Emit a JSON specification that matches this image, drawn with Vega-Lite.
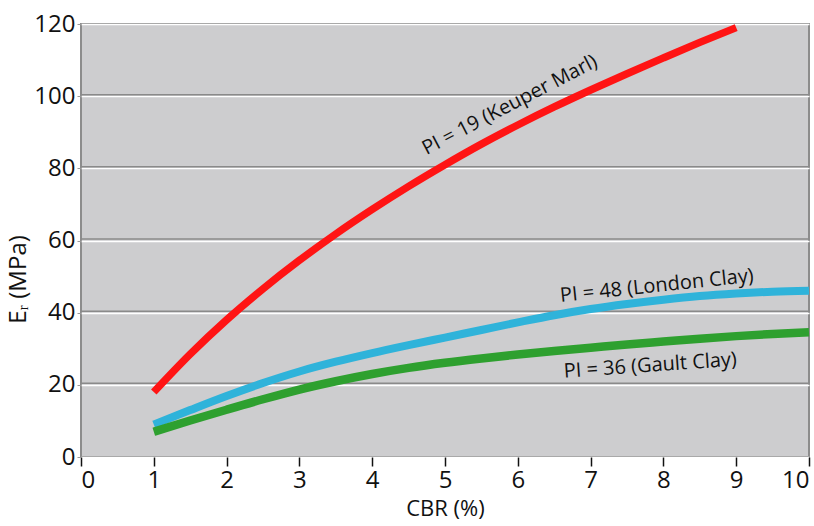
{
  "$schema": "https://vega.github.io/schema/vega-lite/v6.json",
  "width": 728,
  "height": 433,
  "autosize": {"type": "none"},
  "padding": {"left": 81, "top": 24, "right": 5, "bottom": 69},
  "background": "white",
  "config": {
    "font": "Open Sans",
    "view": {"fill": "#cdcdcf", "stroke": "#8c8c8c", "strokeWidth": 2},
    "axis": {"domain": false, "labelColor": "#111", "titleColor": "#111", "labelFont": "Open Sans", "titleFont": "Open Sans", "titleFontWeight": "normal"}
  },
  "datasets": {
    "curves": [
      {"series": "Keuper", "cbr": 1, "er": 18},
      {"series": "Keuper", "cbr": 1.5, "er": 28.5},
      {"series": "Keuper", "cbr": 2, "er": 38},
      {"series": "Keuper", "cbr": 2.5, "er": 46.6},
      {"series": "Keuper", "cbr": 3, "er": 54.5},
      {"series": "Keuper", "cbr": 3.5, "er": 61.8},
      {"series": "Keuper", "cbr": 4, "er": 68.6},
      {"series": "Keuper", "cbr": 4.5, "er": 75},
      {"series": "Keuper", "cbr": 5, "er": 81},
      {"series": "Keuper", "cbr": 5.5, "er": 86.7},
      {"series": "Keuper", "cbr": 6, "er": 92},
      {"series": "Keuper", "cbr": 6.5, "er": 97},
      {"series": "Keuper", "cbr": 7, "er": 101.7},
      {"series": "Keuper", "cbr": 7.5, "er": 106.2},
      {"series": "Keuper", "cbr": 8, "er": 110.6},
      {"series": "Keuper", "cbr": 8.5, "er": 114.9},
      {"series": "Keuper", "cbr": 9, "er": 119},
      {"series": "London", "cbr": 1, "er": 9},
      {"series": "London", "cbr": 1.5, "er": 13},
      {"series": "London", "cbr": 2, "er": 16.9},
      {"series": "London", "cbr": 2.5, "er": 20.5},
      {"series": "London", "cbr": 3, "er": 23.7},
      {"series": "London", "cbr": 3.5, "er": 26.4},
      {"series": "London", "cbr": 4, "er": 28.8},
      {"series": "London", "cbr": 4.5, "er": 31},
      {"series": "London", "cbr": 5, "er": 33.1},
      {"series": "London", "cbr": 5.5, "er": 35.2},
      {"series": "London", "cbr": 6, "er": 37.3},
      {"series": "London", "cbr": 6.5, "er": 39.3},
      {"series": "London", "cbr": 7, "er": 41},
      {"series": "London", "cbr": 7.5, "er": 42.4},
      {"series": "London", "cbr": 8, "er": 43.6},
      {"series": "London", "cbr": 8.5, "er": 44.6},
      {"series": "London", "cbr": 9, "er": 45.3},
      {"series": "London", "cbr": 9.5, "er": 45.8},
      {"series": "London", "cbr": 10, "er": 46.1},
      {"series": "Gault", "cbr": 1, "er": 7},
      {"series": "Gault", "cbr": 1.5, "er": 10.1},
      {"series": "Gault", "cbr": 2, "er": 13.1},
      {"series": "Gault", "cbr": 2.5, "er": 16},
      {"series": "Gault", "cbr": 3, "er": 18.7},
      {"series": "Gault", "cbr": 3.5, "er": 21},
      {"series": "Gault", "cbr": 4, "er": 23},
      {"series": "Gault", "cbr": 4.5, "er": 24.7},
      {"series": "Gault", "cbr": 5, "er": 26.1},
      {"series": "Gault", "cbr": 5.5, "er": 27.3},
      {"series": "Gault", "cbr": 6, "er": 28.4},
      {"series": "Gault", "cbr": 6.5, "er": 29.4},
      {"series": "Gault", "cbr": 7, "er": 30.3},
      {"series": "Gault", "cbr": 7.5, "er": 31.2},
      {"series": "Gault", "cbr": 8, "er": 32},
      {"series": "Gault", "cbr": 8.5, "er": 32.8},
      {"series": "Gault", "cbr": 9, "er": 33.5},
      {"series": "Gault", "cbr": 9.5, "er": 34.1},
      {"series": "Gault", "cbr": 10, "er": 34.6}
    ],
    "labels": [
      {"series": "Keuper", "cbr": 5.89, "er": 97.5, "text": "PI = 19 (Keuper Marl)"},
      {"series": "London", "cbr": 7.91, "er": 47.4, "text": "PI = 48 (London Clay)"},
      {"series": "Gault", "cbr": 7.82, "er": 25.3, "text": "PI = 36 (Gault Clay)"}
    ]
  },
  "layer": [
    {
      "data": {"values": [{"er": 20}, {"er": 40}, {"er": 60}, {"er": 80}, {"er": 100}]},
      "mark": {"type": "rule", "color": "#8a8a8a", "strokeWidth": 1.5, "yOffset": -1.5},
      "encoding": {
        "y": {"field": "er", "type": "quantitative", "scale": {"domain": [0, 120]},
          "axis": {
            "title": "Eᵣ (MPa)", "titleFontSize": 24, "titlePadding": 3, "titleY": 255,
            "values": [0, 20, 40, 60, 80, 100, 120], "labelFontSize": 24, "labelPadding": 2,
            "tickSize": 4, "tickColor": "#9a9a9a", "grid": true, "gridColor": "#ffffff", "gridWidth": 1.5
          }
        }
      }
    },
    {
      "data": {"name": "curves"},
      "mark": {"type": "line", "interpolate": "monotone", "strokeCap": "butt"},
      "encoding": {
        "x": {"field": "cbr", "type": "quantitative", "scale": {"domain": [0, 10]},
          "axis": {
            "title": "CBR (%)", "titleFontSize": 22, "titlePadding": 6,
            "values": [0, 1, 2, 3, 4, 5, 6, 7, 8, 9, 10], "format": "d", "labelFontSize": 24, "labelFlush": true,
            "ticks": true, "tickSize": 9, "tickWidth": 1.5, "tickColor": "#111111",
            "labelPadding": 2, "grid": false
          }
        },
        "y": {"field": "er", "type": "quantitative"},
        "color": {"field": "series", "type": "nominal", "scale": {"domain": ["Gault", "London", "Keuper"], "range": ["#2ea02f", "#2fb3da", "#ff1414"]}, "legend": null},
        "strokeWidth": {"field": "series", "type": "nominal", "scale": {"domain": ["Gault", "London", "Keuper"], "range": [8.5, 7.5, 10]}, "legend": null},
        "order": {"field": "series", "sort": "ascending"}
      }
    },
    {
      "data": {"name": "labels"},
      "transform": [{"filter": "datum.series == 'Keuper'"}],
      "mark": {"type": "text", "angle": -27.5, "fontSize": 20, "align": "center", "baseline": "middle", "color": "#111"},
      "encoding": {"x": {"field": "cbr", "type": "quantitative"}, "y": {"field": "er", "type": "quantitative"}, "text": {"field": "text"}}
    },
    {
      "data": {"name": "labels"},
      "transform": [{"filter": "datum.series == 'London'"}],
      "mark": {"type": "text", "angle": -6, "fontSize": 20, "align": "center", "baseline": "middle", "color": "#111"},
      "encoding": {"x": {"field": "cbr", "type": "quantitative"}, "y": {"field": "er", "type": "quantitative"}, "text": {"field": "text"}}
    },
    {
      "data": {"name": "labels"},
      "transform": [{"filter": "datum.series == 'Gault'"}],
      "mark": {"type": "text", "angle": -4, "fontSize": 20, "align": "center", "baseline": "middle", "color": "#111"},
      "encoding": {"x": {"field": "cbr", "type": "quantitative"}, "y": {"field": "er", "type": "quantitative"}, "text": {"field": "text"}}
    }
  ]
}
